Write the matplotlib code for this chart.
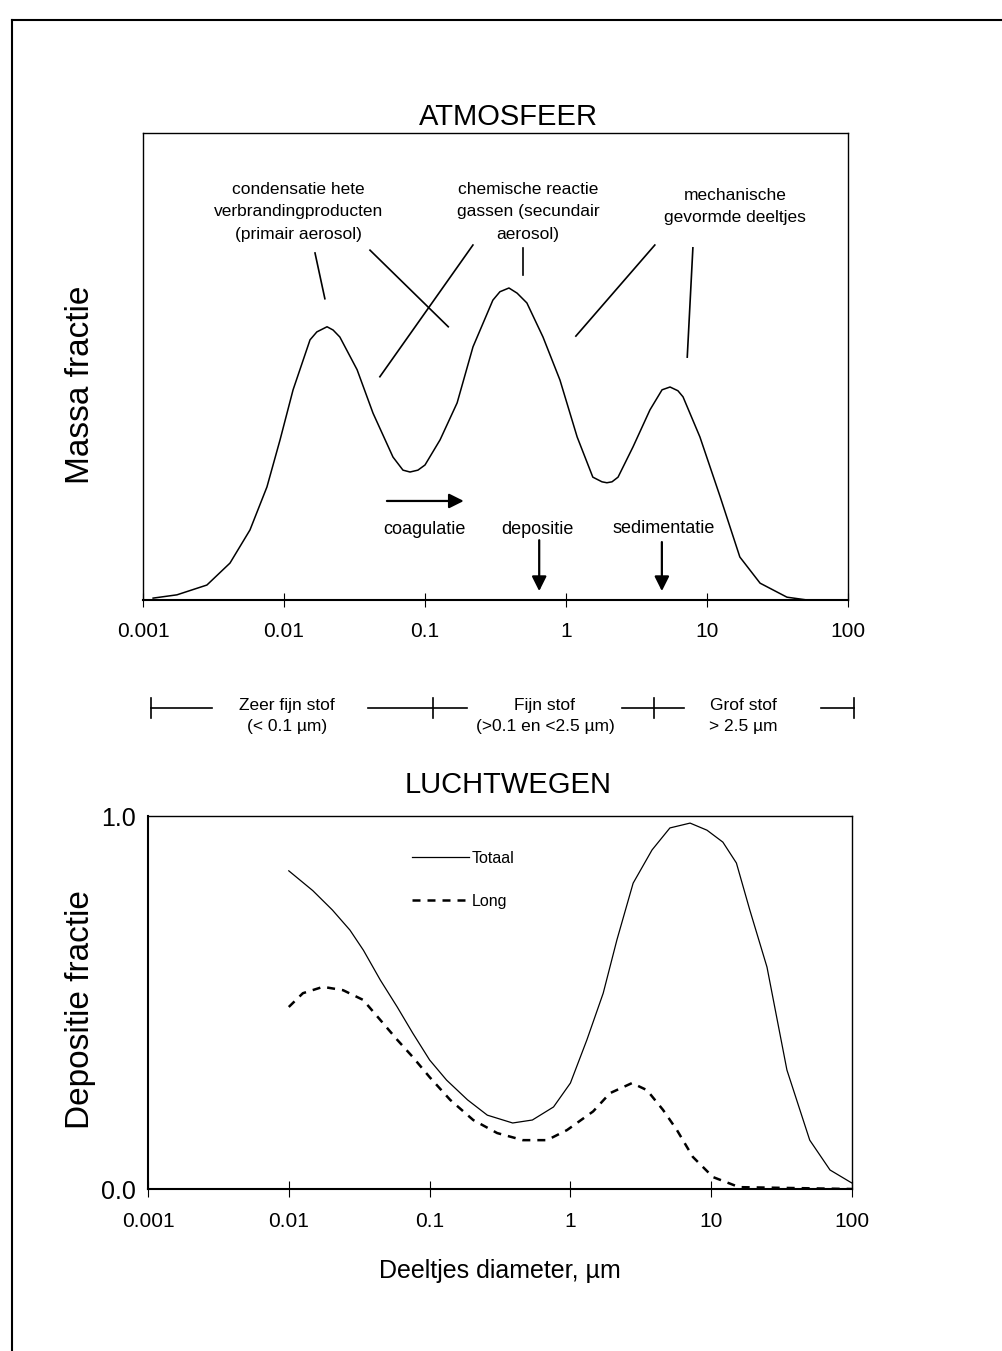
import matplotlib
matplotlib.use("Agg")
import matplotlib.pyplot as plt
from matplotlib.lines import Line2D

plt.rcParams['font.family'] = ['Liberation Sans', 'DejaVu Sans']

# bovenste grafiek: massa fractie in de atmosfeer
atm_diam = [0.00118, 0.00174, 0.00284, 0.00414, 0.00574, 0.00757, 0.00938, 0.0116,
            0.0153, 0.0171, 0.0202, 0.0223, 0.0249, 0.0330, 0.0428, 0.0593, 0.0698,
            0.0783, 0.0891, 0.100, 0.128, 0.169, 0.219, 0.303, 0.340, 0.394, 0.450,
            0.528, 0.687, 0.906, 1.20, 1.55, 1.80, 1.95, 2.12, 2.34, 2.99, 3.94,
            4.80, 5.47, 6.22, 6.76, 8.91, 12.4, 17.1, 23.8, 36.9, 51.2]
atm_mass = [0.004, 0.011, 0.032, 0.079, 0.150, 0.242, 0.343, 0.450, 0.557, 0.574,
            0.585, 0.578, 0.563, 0.493, 0.400, 0.306, 0.278, 0.274, 0.278, 0.289,
            0.343, 0.422, 0.542, 0.642, 0.660, 0.668, 0.657, 0.636, 0.563, 0.471,
            0.349, 0.263, 0.253, 0.251, 0.253, 0.263, 0.328, 0.407, 0.450, 0.456,
            0.448, 0.435, 0.349, 0.221, 0.092, 0.036, 0.006, 0.0]

# onderste grafiek: depositie in de luchtwegen
tot_diam = [0.01, 0.0148, 0.0204, 0.0272, 0.0339, 0.0447, 0.0589, 0.0759, 0.1, 0.132,
            0.186, 0.257, 0.389, 0.537, 0.759, 1.0, 1.31, 1.71, 2.14, 2.79, 3.80, 5.09,
            7.08, 9.33, 12.1, 15.1, 18.8, 24.9, 34.5, 50.1, 69.8, 96.8, 100]
tot_dep = [0.853, 0.80, 0.748, 0.694, 0.64, 0.56, 0.488, 0.418, 0.346, 0.292, 0.239,
           0.198, 0.177, 0.185, 0.22, 0.284, 0.40, 0.525, 0.668, 0.82, 0.909, 0.968,
           0.981, 0.962, 0.93, 0.874, 0.748, 0.595, 0.319, 0.131, 0.051, 0.019, 0.016]
long_diam = [0.01, 0.0126, 0.0175, 0.0243, 0.0337, 0.0447, 0.0589, 0.0759, 0.1, 0.140,
             0.204, 0.302, 0.460, 0.682, 0.946, 1.45, 1.91, 2.74, 3.50, 4.55, 5.71,
             7.41, 10.3, 15.8, 100]
long_dep = [0.488, 0.525, 0.542, 0.533, 0.507, 0.453, 0.40, 0.354, 0.30, 0.239, 0.185,
            0.15, 0.131, 0.131, 0.158, 0.208, 0.257, 0.284, 0.265, 0.212, 0.158, 0.086,
            0.032, 0.005, 0.0]

xticks = [0.001, 0.01, 0.1, 1, 10, 100]
xticklabels = ['0.001', '0.01', '0.1', '1', '10', '100']

fig = plt.figure(figsize=(10.02, 13.51), dpi=100)

# ---------- ATMOSFEER ----------
ax1 = fig.add_axes([0.1427, 0.5559, 0.7036, 0.3457])
ax1.plot(atm_diam, atm_mass, color='black', lw=1.1)
ax1.set_xscale('log')
ax1.set_xlim(0.001, 100)
ax1.set_ylim(0, 1)
ax1.set_xticks(xticks)
ax1.set_xticklabels(xticklabels)
ax1.minorticks_off()
ax1.set_yticks([])
ax1.tick_params(axis='x', direction='inout', length=10, width=0.8, pad=11, labelsize=15)
for s in ax1.spines.values():
    s.set_linewidth(1.0)
ax1.spines['bottom'].set_linewidth(1.5)
ax1.set_ylabel('Massa fractie', fontsize=24)
ax1.yaxis.set_label_coords(-0.0665, 0.46)

# toelichtingen en aanwijslijnen
ax1.text(0.220, 0.831, 'condensatie hete\nverbrandingproducten\n(primair aerosol)',
         transform=ax1.transAxes, ha='center', va='center', fontsize=12.5, linespacing=1.6)
ax1.text(0.546, 0.831, 'chemische reactie\ngassen (secundair\naerosol)',
         transform=ax1.transAxes, ha='center', va='center', fontsize=12.5, linespacing=1.6)
ax1.text(0.840, 0.842, 'mechanische\ngevormde deeltjes',
         transform=ax1.transAxes, ha='center', va='center', fontsize=12.5, linespacing=1.6)
pointers = [((0.244, 0.743), (0.258, 0.645)),
            ((0.322, 0.749), (0.433, 0.585)),
            ((0.468, 0.760), (0.336, 0.478)),
            ((0.539, 0.754), (0.539, 0.696)),
            ((0.726, 0.760), (0.614, 0.565)),
            ((0.780, 0.754), (0.772, 0.520))]
for p0, p1 in pointers:
    ax1.plot([p0[0], p1[0]], [p0[1], p1[1]], color='black', lw=1.2,
             transform=ax1.transAxes)

arrow = dict(arrowstyle='-|>', color='black', lw=1.6, mutation_scale=22, shrinkA=0, shrinkB=0)
ax1.annotate('', xy=(0.455, 0.212), xytext=(0.346, 0.212), xycoords='axes fraction',
             arrowprops=arrow)
ax1.text(0.399, 0.150, 'coagulatie', transform=ax1.transAxes, ha='center', va='center',
         fontsize=13)
ax1.text(0.559, 0.150, 'depositie', transform=ax1.transAxes, ha='center', va='center',
         fontsize=13)
ax1.annotate('', xy=(0.562, 0.019), xytext=(0.562, 0.128), xycoords='axes fraction',
             arrowprops=arrow)
ax1.text(0.738, 0.152, 'sedimentatie', transform=ax1.transAxes, ha='center', va='center',
         fontsize=13)
ax1.annotate('', xy=(0.736, 0.019), xytext=(0.736, 0.124), xycoords='axes fraction',
             arrowprops=arrow)

fig.text(0.507, 0.9134, 'ATMOSFEER', ha='center', va='center', fontsize=21)

# ---------- grootte-balk ----------
W, H = 1002.0, 1351.0
bar_y = 1 - 708 / H
segments = [(151, 212), (368, 467), (622, 684), (821, 854)]
bar_ticks = [151, 433, 654, 854]
for a, b in segments:
    fig.add_artist(Line2D([a / W, b / W], [bar_y, bar_y], color='black', lw=1.2))
for t in bar_ticks:
    fig.add_artist(Line2D([t / W, t / W], [1 - 698 / H, 1 - 718 / H], color='black', lw=1.2))
size_labels = ['Zeer fijn stof\n(< 0.1 µm)', 'Fijn stof\n(>0.1 en <2.5 µm)', 'Grof stof\n> 2.5 µm']
size_x = [287, 545, 743]
for lab, x in zip(size_labels, size_x):
    fig.text(x / W, 1 - 716 / H, lab, ha='center', va='center', fontsize=12.5, linespacing=1.45)

# ---------- LUCHTWEGEN ----------
ax2 = fig.add_axes([0.1477, 0.1199, 0.7026, 0.2761])
ax2.plot(tot_diam, tot_dep, color='black', lw=0.9, label='Totaal')
ax2.plot(long_diam, long_dep, color='black', lw=1.8, linestyle=(0, (3.2, 2.8)), label='Long')
ax2.set_xscale('log')
ax2.set_xlim(0.001, 100)
ax2.set_ylim(0, 1)
ax2.set_xticks(xticks)
ax2.set_xticklabels(xticklabels)
ax2.minorticks_off()
ax2.set_yticks([0, 1])
ax2.set_yticklabels(['0.0', '1.0'])
ax2.tick_params(axis='x', direction='inout', length=11, width=0.8, pad=11, labelsize=15)
ax2.tick_params(axis='y', length=0, pad=9, labelsize=18)
for s in ax2.spines.values():
    s.set_linewidth(1.0)
ax2.spines['bottom'].set_linewidth(1.5)
ax2.spines['left'].set_linewidth(1.5)
ax2.set_ylabel('Depositie fractie', fontsize=24)
ax2.yaxis.set_label_coords(-0.074, 0.48)
ax2.legend(loc='upper left', bbox_to_anchor=(0.375, 0.906), frameon=False, fontsize=11.5,
           handlelength=3.6, handletextpad=0.15, labelspacing=1.75, borderpad=0,
           borderaxespad=0)

fig.text(0.507, 1 - 785 / H, 'LUCHTWEGEN', ha='center', va='center', fontsize=21)
fig.text(0.499, 1 - 1271 / H, 'Deeltjes diameter, µm', ha='center', va='center', fontsize=18)

# kader rond de figuur
fig.add_artist(Line2D([12 / W, 12 / W], [0, 1 - 20 / H], color='black', lw=1.5))
fig.add_artist(Line2D([12 / W, 1], [1 - 20 / H, 1 - 20 / H], color='black', lw=1.5))

fig.savefig('out.png', dpi=100)
